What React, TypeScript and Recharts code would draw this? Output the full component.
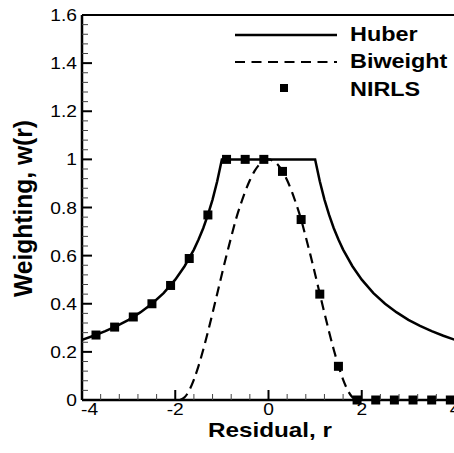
import { ComposedChart, Line, Scatter, XAxis, YAxis, ReferenceLine } from 'recharts';

// Huber weighting (solid line)
const huberR = [-4, -3.75, -3.5, -3.25, -3, -2.75, -2.5, -2.25, -2, -1.8, -1.6, -1.5, -1.4, -1.3, -1.2, -1.1, -1, 1, 1.1, 1.2, 1.3, 1.4, 1.5, 1.6, 1.8, 2, 2.25, 2.5, 2.75, 3, 3.25, 3.5, 3.75, 4];
const huberW = [0.25, 0.267, 0.286, 0.308, 0.333, 0.364, 0.4, 0.444, 0.5, 0.556, 0.625, 0.667, 0.714, 0.769, 0.833, 0.909, 1, 1, 0.909, 0.833, 0.769, 0.714, 0.667, 0.625, 0.556, 0.5, 0.444, 0.4, 0.364, 0.333, 0.308, 0.286, 0.267, 0.25];

// Biweight weighting (dashed line)
const biweightR = [-1.9, -1.8, -1.7, -1.6, -1.5, -1.4, -1.3, -1.2, -1.1, -1, -0.9, -0.8, -0.7, -0.6, -0.5, -0.4, -0.3, -0.2, -0.1, 0, 0.1, 0.2, 0.3, 0.4, 0.5, 0.6, 0.7, 0.8, 0.9, 1, 1.1, 1.2, 1.3, 1.4, 1.5, 1.6, 1.7, 1.8, 1.9];
const biweightW = [0, 0.011, 0.04, 0.085, 0.142, 0.209, 0.283, 0.361, 0.442, 0.523, 0.602, 0.677, 0.75, 0.811, 0.866, 0.913, 0.951, 0.978, 0.994, 1, 0.994, 0.978, 0.951, 0.913, 0.866, 0.811, 0.75, 0.677, 0.602, 0.523, 0.442, 0.361, 0.283, 0.209, 0.142, 0.085, 0.04, 0.011, 0];

// NIRLS samples (square markers)
const nirlsR = [-3.7, -3.3, -2.9, -2.5, -2.1, -1.7, -1.3, -0.9, -0.5, -0.1, 0.3, 0.7, 1.1, 1.5, 1.9, 2.3, 2.7, 3.1, 3.5, 3.9];
const nirlsW = [0.27, 0.303, 0.345, 0.4, 0.476, 0.588, 0.769, 1, 1, 1, 0.95, 0.75, 0.44, 0.14, 0, 0, 0, 0, 0, 0];

const xMajorTicks = [-4, -2, 0, 2, 4];
const xTickLabels = ['-4', '-2', '0', '2', '4'];
const yMajorTicks = [0, 0.2, 0.4, 0.6, 0.8, 1, 1.2, 1.4, 1.6];
const yTickLabels = ['0', '0.2', '0.4', '0.6', '0.8', '1', '1.2', '1.4', '1.6'];

const huber = huberR.map((r, i) => ({ r, w: huberW[i] }));
const biweight = biweightR.map((r, i) => ({ r, w: biweightW[i] }));
const nirls = nirlsR.map((r, i) => ({ r, w: nirlsW[i] }));

// 4 minor ticks between each pair of majors
function withMinor(majors: number[]) {
    const out: number[] = [];
    for (let i = 0; i < majors.length - 1; i++) {
        const a = majors[i];
        const b = majors[i + 1];
        for (let k = 0; k < 5; k++) out.push(+(a + ((b - a) * k) / 5).toFixed(4));
    }
    out.push(majors[majors.length - 1]);
    return out;
}

const FONT = '"Liberation Sans", Arial, Helvetica, sans-serif';

function majorIndex(list: number[], v: number) {
    return list.findIndex((m) => Math.abs(m - v) < 1e-6);
}

function YTick(props: any) {
    const { x, y, payload } = props;
    const i = majorIndex(yMajorTicks, payload.value);
    const major = i >= 0;
    return (
        <g>
            <line x1={x} x2={x + (major ? 10 : 6)} y1={y} y2={y} stroke={major ? '#000' : '#444'} strokeWidth={major ? 2 : 1} />
            {major && (
                <text transform={`translate(${x - 5},${y + 6}) scale(1.2,1)`} textAnchor="end" fontSize={16} fontFamily={FONT} fill="#000">
                    {yTickLabels[i]}
                </text>
            )}
        </g>
    );
}

function XTick(props: any) {
    const { x, y, payload } = props;
    const i = majorIndex(xMajorTicks, payload.value);
    const major = i >= 0;
    return (
        <g>
            <line x1={x} x2={x} y1={y} y2={y - (major ? 10 : 6)} stroke={major ? '#000' : '#444'} strokeWidth={major ? 2 : 1} />
            {major && (
                <text
                    transform={`translate(${i === 0 ? x - 1 : x},${y + 15}) scale(1.2,1)`}
                    textAnchor={i === 0 ? 'start' : 'middle'}
                    fontSize={16}
                    fontFamily={FONT}
                    fill="#000"
                >
                    {xTickLabels[i]}
                </text>
            )}
        </g>
    );
}

const SquareMarker = (props: any) => {
    const { cx, cy } = props;
    return <rect x={cx - 4.5} y={cy - 4.5} width={9} height={9} fill="#000" />;
};

function LegendBox() {
    const textProps = { fontSize: 19.5, fontWeight: 'bold', fontFamily: FONT, fill: '#000' };
    return (
        <svg width={454} height={110} style={{ position: 'absolute', left: 0, top: 0, pointerEvents: 'none' }}>
            <line x1={235} x2={337} y1={35} y2={35} stroke="#000" strokeWidth={2.5} />
            <text transform="translate(350,41) scale(1.2,1)" {...textProps}>Huber</text>
            <line x1={235} x2={337} y1={62} y2={62} stroke="#000" strokeWidth={2.2} strokeDasharray="10 6.5" />
            <text transform="translate(350,68) scale(1.2,1)" {...textProps}>Biweight</text>
            <rect x={280} y={84} width={8} height={8} fill="#000" />
            <text transform="translate(350,96) scale(1.2,1)" {...textProps}>NIRLS</text>
        </svg>
    );
}

export default function App() {
    return (
        <div style={{ position: 'absolute', left: 0, top: 0, width: 454, height: 453, overflow: 'hidden', background: '#fff' }}>
            <ComposedChart width={456} height={453} margin={{ top: 15, right: 1, bottom: 0, left: 0 }}>
                <XAxis
                    dataKey="r"
                    type="number"
                    domain={[-4, 4]}
                    ticks={withMinor(xMajorTicks)}
                    interval={0}
                    tickSize={0}
                    tickMargin={0}
                    tickLine={false}
                    tick={<XTick />}
                    height={53}
                    axisLine={{ stroke: '#000', strokeWidth: 2.5 }}
                    label={{
                        content: () => (
                            <text x={270} y={437} textAnchor="middle" fontSize={21} fontWeight="bold" fontFamily={FONT} textLength={124} lengthAdjust="spacingAndGlyphs" fill="#000">
                                Residual, r
                            </text>
                        ),
                    }}
                />
                <YAxis
                    type="number"
                    domain={[0, 1.6]}
                    ticks={withMinor(yMajorTicks)}
                    interval={0}
                    tickSize={0}
                    tickMargin={0}
                    tickLine={false}
                    tick={<YTick />}
                    width={82}
                    axisLine={{ stroke: '#000', strokeWidth: 2.5 }}
                    label={{
                        content: () => (
                            <text transform="translate(32,208.5) rotate(-90)" textAnchor="middle" fontSize={25} fontWeight="bold" fontFamily={FONT} textLength={177} lengthAdjust="spacingAndGlyphs" fill="#000">
                                Weighting, w(r)
                            </text>
                        ),
                    }}
                />
                <ReferenceLine y={1.6} stroke="#000" strokeWidth={2} />
                <Line data={huber} dataKey="w" type="linear" stroke="#000" strokeWidth={2.5} dot={false} isAnimationActive={false} />
                <Line data={biweight} dataKey="w" type="monotone" stroke="#000" strokeWidth={2.2} strokeDasharray="10 6" dot={false} isAnimationActive={false} />
                <Scatter data={nirls} dataKey="w" shape={SquareMarker} isAnimationActive={false} />
            </ComposedChart>
            <LegendBox />
        </div>
    );
}
